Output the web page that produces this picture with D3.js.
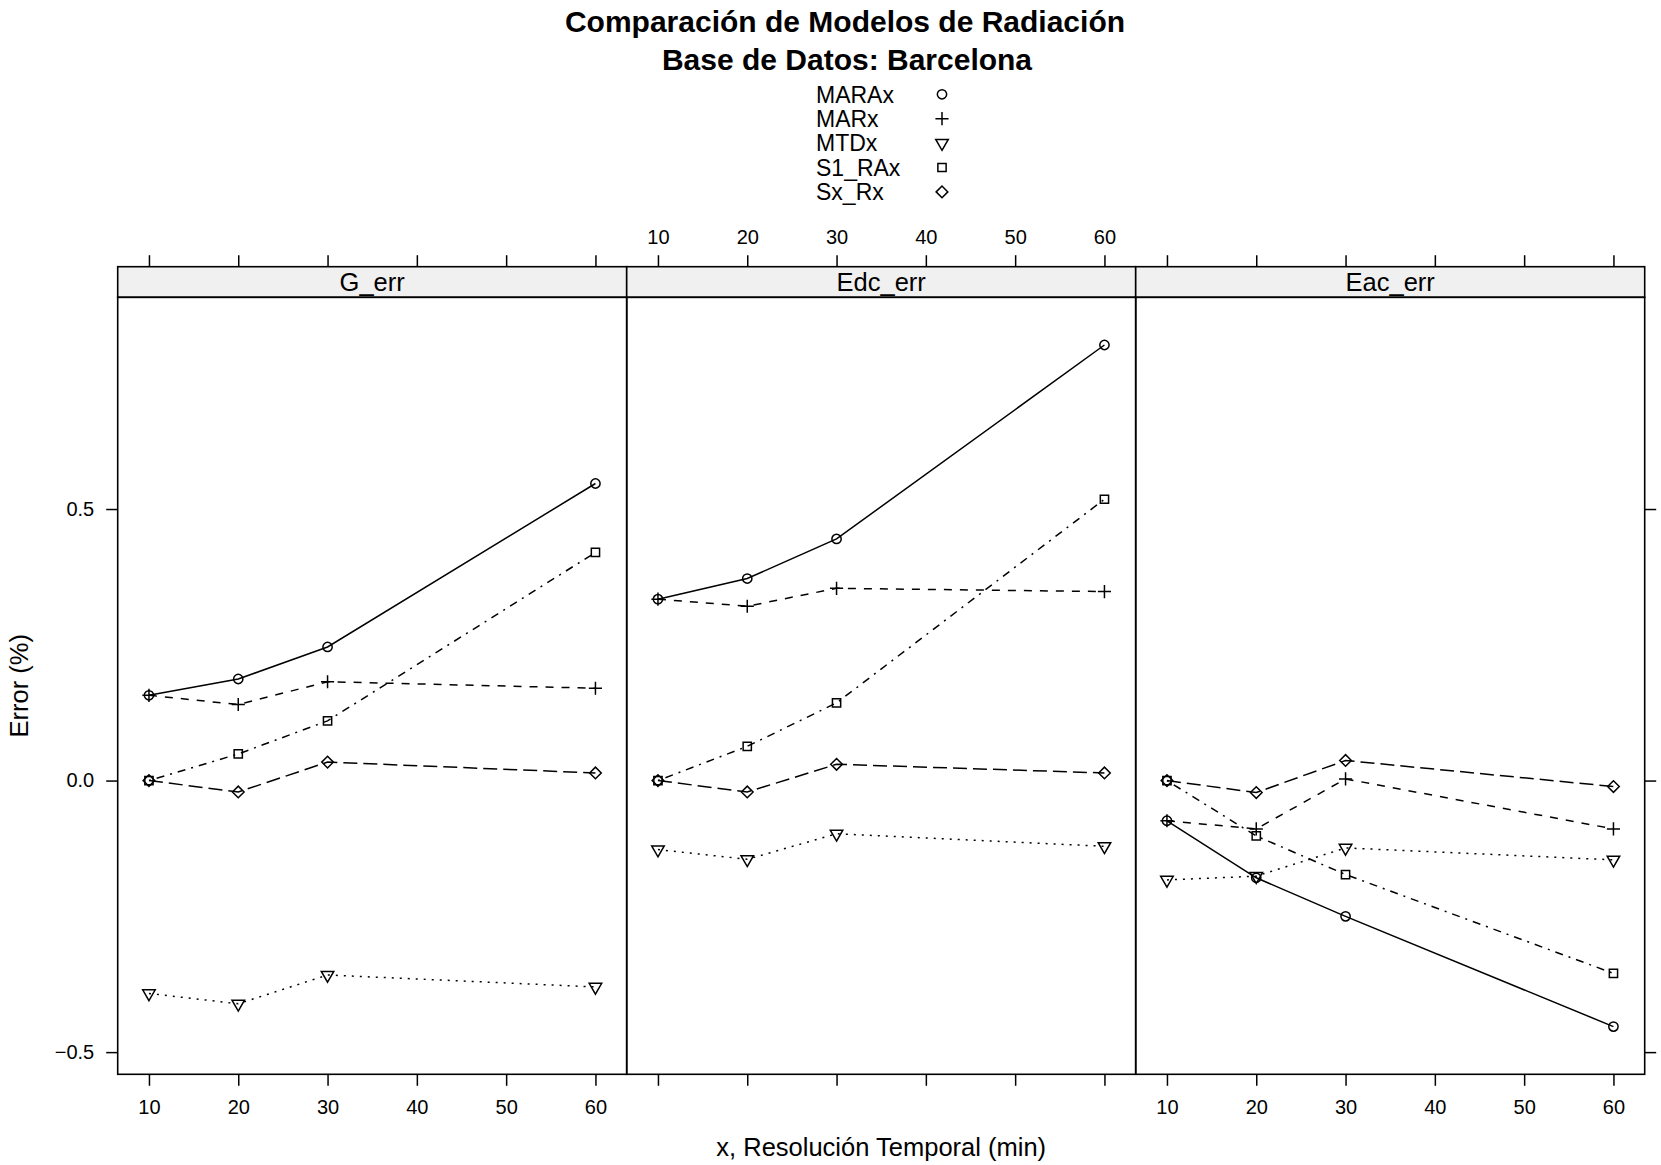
<!DOCTYPE html>
<html><head><meta charset="utf-8">
<script src="https://cdn.jsdelivr.net/npm/d3@7"></script>
<style>
body{margin:0;background:#fff}
svg{display:block}
text{font-family:"Liberation Sans",Arial,Helvetica,sans-serif;fill:#000}
</style>
</head><body><svg id="chart" width="1661" height="1165"></svg>
<script>
// ---------- data ----------
const titleLines = ["Comparación de Modelos de Radiación", "Base de Datos: Barcelona"];
const xLabel = "x, Resolución Temporal (min)";
const yLabel = "Error (%)";
const resolutions = [10, 20, 30, 60];
const panelNames = ["G_err", "Edc_err", "Eac_err"];
const models = ["MARAx", "MARx", "MTDx", "S1_RAx", "Sx_Rx"];
const xTickValues = [10, 20, 30, 40, 50, 60];
const yTickValues = [-0.5, 0, 0.5];
const yTickLabels = ["\u22120.5", "0.0", "0.5"];

// rows follow `models`, columns follow `resolutions`
const gErr = [
  [0.157, 0.187, 0.246, 0.547],
  [0.157, 0.140, 0.182, 0.170],
  [-0.392, -0.411, -0.358, -0.380],
  [0.000, 0.049, 0.110, 0.420],
  [0.000, -0.021, 0.034, 0.014]
];
const edcErr = [
  [0.334, 0.372, 0.445, 0.802],
  [0.334, 0.321, 0.354, 0.348],
  [-0.127, -0.145, -0.098, -0.121],
  [0.000, 0.063, 0.143, 0.518],
  [0.000, -0.021, 0.030, 0.014]
];
const eacErr = [
  [-0.074, -0.179, -0.250, -0.453],
  [-0.074, -0.089, 0.003, -0.089],
  [-0.183, -0.176, -0.124, -0.146],
  [0.000, -0.102, -0.173, -0.355],
  [0.000, -0.022, 0.037, -0.011]
];
const panelData = [gErr, edcErr, eacErr];

// ---------- styles ----------
const symbolTypes = ["circle", "plus", "triDown", "square", "diamond"];
const dashPatterns = [null, "8,8", "2,6", "2,6,8,6", "14,6"];

// ---------- layout ----------
const svg = d3.select("#chart");
const plotLeft = 117.7, panelW = 509, stripTop = 266.7, stripH = 30.6, panelBottom = 1074.3;
const panelTop = stripTop + stripH;
const tickLen = 11.5;

const xExt = d3.extent(resolutions);
const xPad = 0.07 * (xExt[1] - xExt[0]);
const allVals = panelData.flat(2);
const yExt = d3.extent(allVals);
const yPad = 0.07 * (yExt[1] - yExt[0]);
const y = d3.scaleLinear().domain([yExt[0] - yPad, yExt[1] + yPad]).range([panelBottom, panelTop]);

const R0 = 4.65;
function symbolPath(type) {
  const p = d3.path();
  if (type === "circle") {
    p.arc(0, 0, R0, 0, 2 * Math.PI);
  } else if (type === "plus") {
    const a = Math.SQRT2 * R0;
    p.moveTo(-a, 0); p.lineTo(a, 0); p.moveTo(0, -a); p.lineTo(0, a);
  } else if (type === "square") {
    const a = 0.886 * R0;
    p.rect(-a, -a, 2 * a, 2 * a);
  } else if (type === "diamond") {
    const a = 1.2533 * R0;
    p.moveTo(-a, 0); p.lineTo(0, -a); p.lineTo(a, 0); p.lineTo(0, a); p.closePath();
  } else if (type === "triDown") {
    const t0 = 1.5551;
    const r = t0 * R0, yc = 0.5 * t0 * R0, xc = 0.866 * t0 * R0;
    p.moveTo(0, r); p.lineTo(xc, -yc); p.lineTo(-xc, -yc); p.closePath();
  }
  return p.toString();
}

panelNames.forEach((name, pi) => {
  const x0 = plotLeft + pi * panelW;
  const x = d3.scaleLinear().domain([xExt[0] - xPad, xExt[1] + xPad]).range([x0, x0 + panelW]);
  const g = svg.append("g");

  // strip
  g.append("rect").attr("x", x0).attr("y", stripTop).attr("width", panelW).attr("height", stripH)
    .attr("fill", "#f0f0f0").attr("stroke", "#000").attr("stroke-width", 1.6);
  g.append("text").attr("x", x0 + panelW / 2).attr("y", stripTop + stripH / 2 + 9)
    .attr("text-anchor", "middle").attr("font-size", 25.5).text(name);

  // data
  const clip = "clip" + pi;
  svg.append("clipPath").attr("id", clip).append("rect")
    .attr("x", x0).attr("y", panelTop).attr("width", panelW).attr("height", panelBottom - panelTop);
  const dg = g.append("g").attr("clip-path", `url(#${clip})`);
  const line = d3.line().x((d, i) => x(resolutions[i])).y(d => y(d));
  models.forEach((m, mi) => {
    const vals = panelData[pi][mi];
    dg.append("path").attr("d", line(vals)).attr("fill", "none").attr("stroke", "#000")
      .attr("stroke-width", 1.5).attr("stroke-dasharray", dashPatterns[mi]);
    dg.selectAll(null).data(vals).enter().append("path")
      .attr("transform", (d, i) => `translate(${x(resolutions[i])},${y(d)})`)
      .attr("d", symbolPath(symbolTypes[mi]))
      .attr("fill", "none").attr("stroke", "#000").attr("stroke-width", 1.5);
  });

  // panel border
  g.append("rect").attr("x", x0).attr("y", panelTop).attr("width", panelW).attr("height", panelBottom - panelTop)
    .attr("fill", "none").attr("stroke", "#000").attr("stroke-width", 1.6);

  // axes (alternating labels like lattice)
  const bottomLabels = pi !== 1;
  const topLabels = pi === 1;
  const ab = d3.axisBottom(x).tickValues(xTickValues).tickSize(tickLen).tickPadding(14)
    .tickFormat(d => bottomLabels ? d : "");
  const at = d3.axisTop(x).tickValues(xTickValues).tickSize(tickLen).tickPadding(11)
    .tickFormat(d => topLabels ? d : "");
  const gb = g.append("g").attr("transform", `translate(0,${panelBottom})`).call(ab);
  const gt = g.append("g").attr("transform", `translate(0,${stripTop})`).call(at);
  [gb, gt].forEach(a => {
    a.select(".domain").remove();
    a.selectAll("line").attr("stroke", "#000").attr("stroke-width", 1.5);
    a.selectAll("text").attr("font-size", 20).attr("fill", "#000")
      .attr("font-family", '"Liberation Sans",Arial,sans-serif');
  });

  if (pi === 0) {
    const al = d3.axisLeft(y).tickValues(yTickValues).tickSize(tickLen).tickPadding(12)
      .tickFormat((d, i) => yTickLabels[i]);
    const gl = g.append("g").attr("transform", `translate(${x0},0)`).call(al);
    gl.select(".domain").remove();
    gl.selectAll("line").attr("stroke", "#000").attr("stroke-width", 1.5);
    gl.selectAll("text").attr("font-size", 20).attr("fill", "#000")
      .attr("font-family", '"Liberation Sans",Arial,sans-serif');
  }
  if (pi === 2) {
    const ar = d3.axisRight(y).tickValues(yTickValues).tickSize(tickLen).tickFormat(() => "");
    const gr = g.append("g").attr("transform", `translate(${x0 + panelW},0)`).call(ar);
    gr.select(".domain").remove();
    gr.selectAll("line").attr("stroke", "#000").attr("stroke-width", 1.5);
  }
});

// titles
svg.append("text").attr("x", 845).attr("y", 32).attr("text-anchor", "middle")
  .attr("font-size", 30).attr("font-weight", "bold").text(titleLines[0]);
svg.append("text").attr("x", 847).attr("y", 70).attr("text-anchor", "middle")
  .attr("font-size", 30).attr("font-weight", "bold").text(titleLines[1]);

// legend
const leg = svg.append("g");
models.forEach((m, i) => {
  const cy = 94.3 + 24.4 * i;
  leg.append("text").attr("x", 816).attr("y", cy + 8.2).attr("font-size", 23).text(m);
  leg.append("path").attr("transform", `translate(942,${cy})`).attr("d", symbolPath(symbolTypes[i]))
    .attr("fill", "none").attr("stroke", "#000").attr("stroke-width", 1.5);
});

// axis titles
svg.append("text").attr("x", plotLeft + 1.5 * panelW).attr("y", 1156).attr("text-anchor", "middle")
  .attr("font-size", 25.5).text(xLabel);
svg.append("text").attr("transform", `translate(28,${(panelTop + panelBottom) / 2}) rotate(-90)`)
  .attr("text-anchor", "middle").attr("font-size", 25.5).text(yLabel);
</script>
</body></html>
